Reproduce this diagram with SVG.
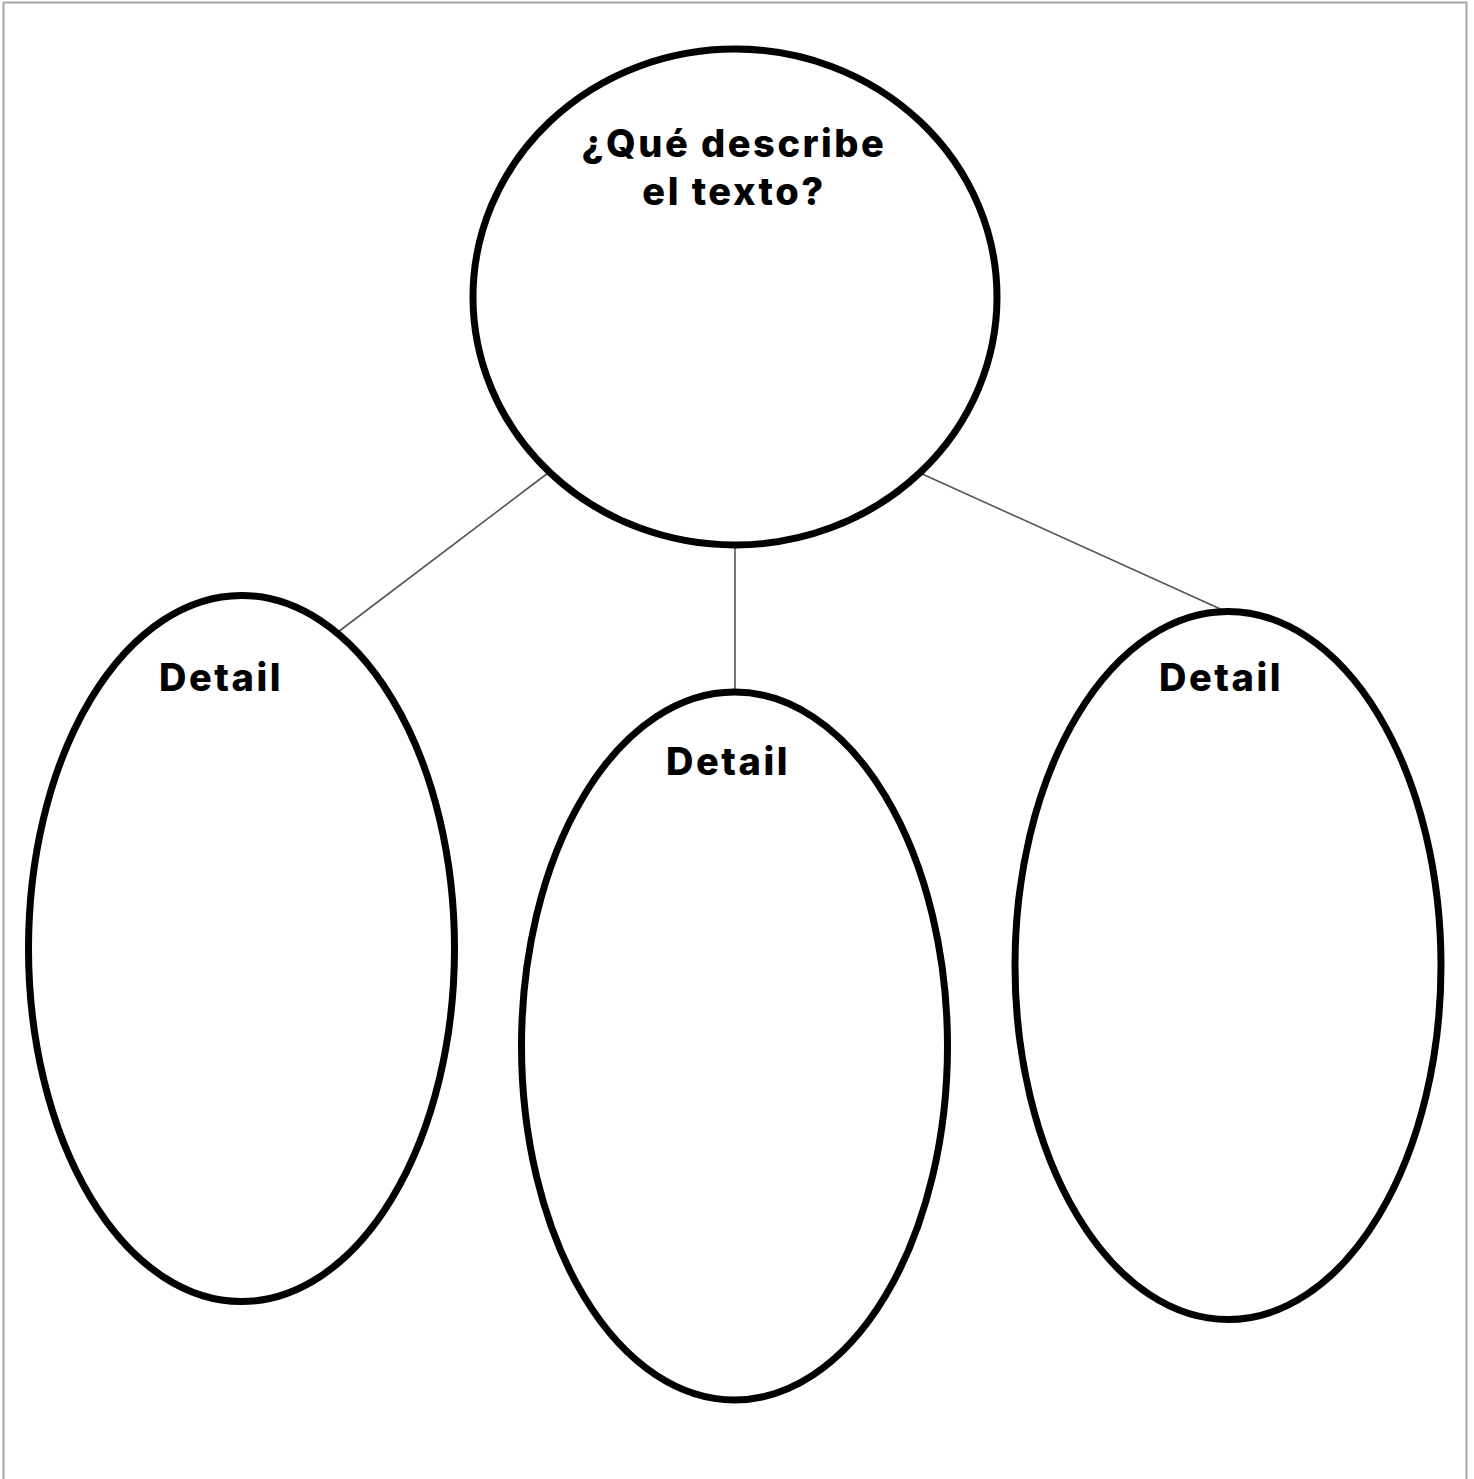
<svg xmlns="http://www.w3.org/2000/svg" width="1474" height="1479" viewBox="0 0 1474 1479">
<style>
.node{fill:#fff;stroke:#000;stroke-width:7}
.conn{stroke:#555;stroke-width:1.6;fill:none}
.lbl{font-family:Inter,"Liberation Sans",sans-serif;font-weight:800;font-size:38px;fill:#000;text-anchor:middle;letter-spacing:2.5px}
</style>
<rect x="0" y="0" width="1474" height="1479" fill="#fff"/>
<rect x="3.5" y="2.5" width="1463" height="1500" fill="none" stroke="#a6a6a6" stroke-width="2"/>
<g id="connectors">
<line class="conn" x1="548" y1="473" x2="338" y2="632"/>
<line class="conn" x1="735" y1="545" x2="735" y2="692"/>
<line class="conn" x1="920" y1="473" x2="1227" y2="612"/>
</g>
<g id="node-main">
<ellipse class="node" cx="735" cy="297" rx="262" ry="248"/>
<text class="lbl" x="734" y="157">¿Qué describe</text>
<text class="lbl" x="734" y="205">el texto?</text>
</g>
<g id="node-left">
<ellipse class="node" cx="241.5" cy="948.5" rx="213" ry="353"/>
<text class="lbl" x="221" y="691">Detail</text>
</g>
<g id="node-middle">
<ellipse class="node" cx="734.5" cy="1046" rx="213" ry="354"/>
<text class="lbl" x="728" y="775">Detail</text>
</g>
<g id="node-right">
<ellipse class="node" cx="1228" cy="965.5" rx="213" ry="354"/>
<text class="lbl" x="1221" y="691">Detail</text>
</g>
</svg>
